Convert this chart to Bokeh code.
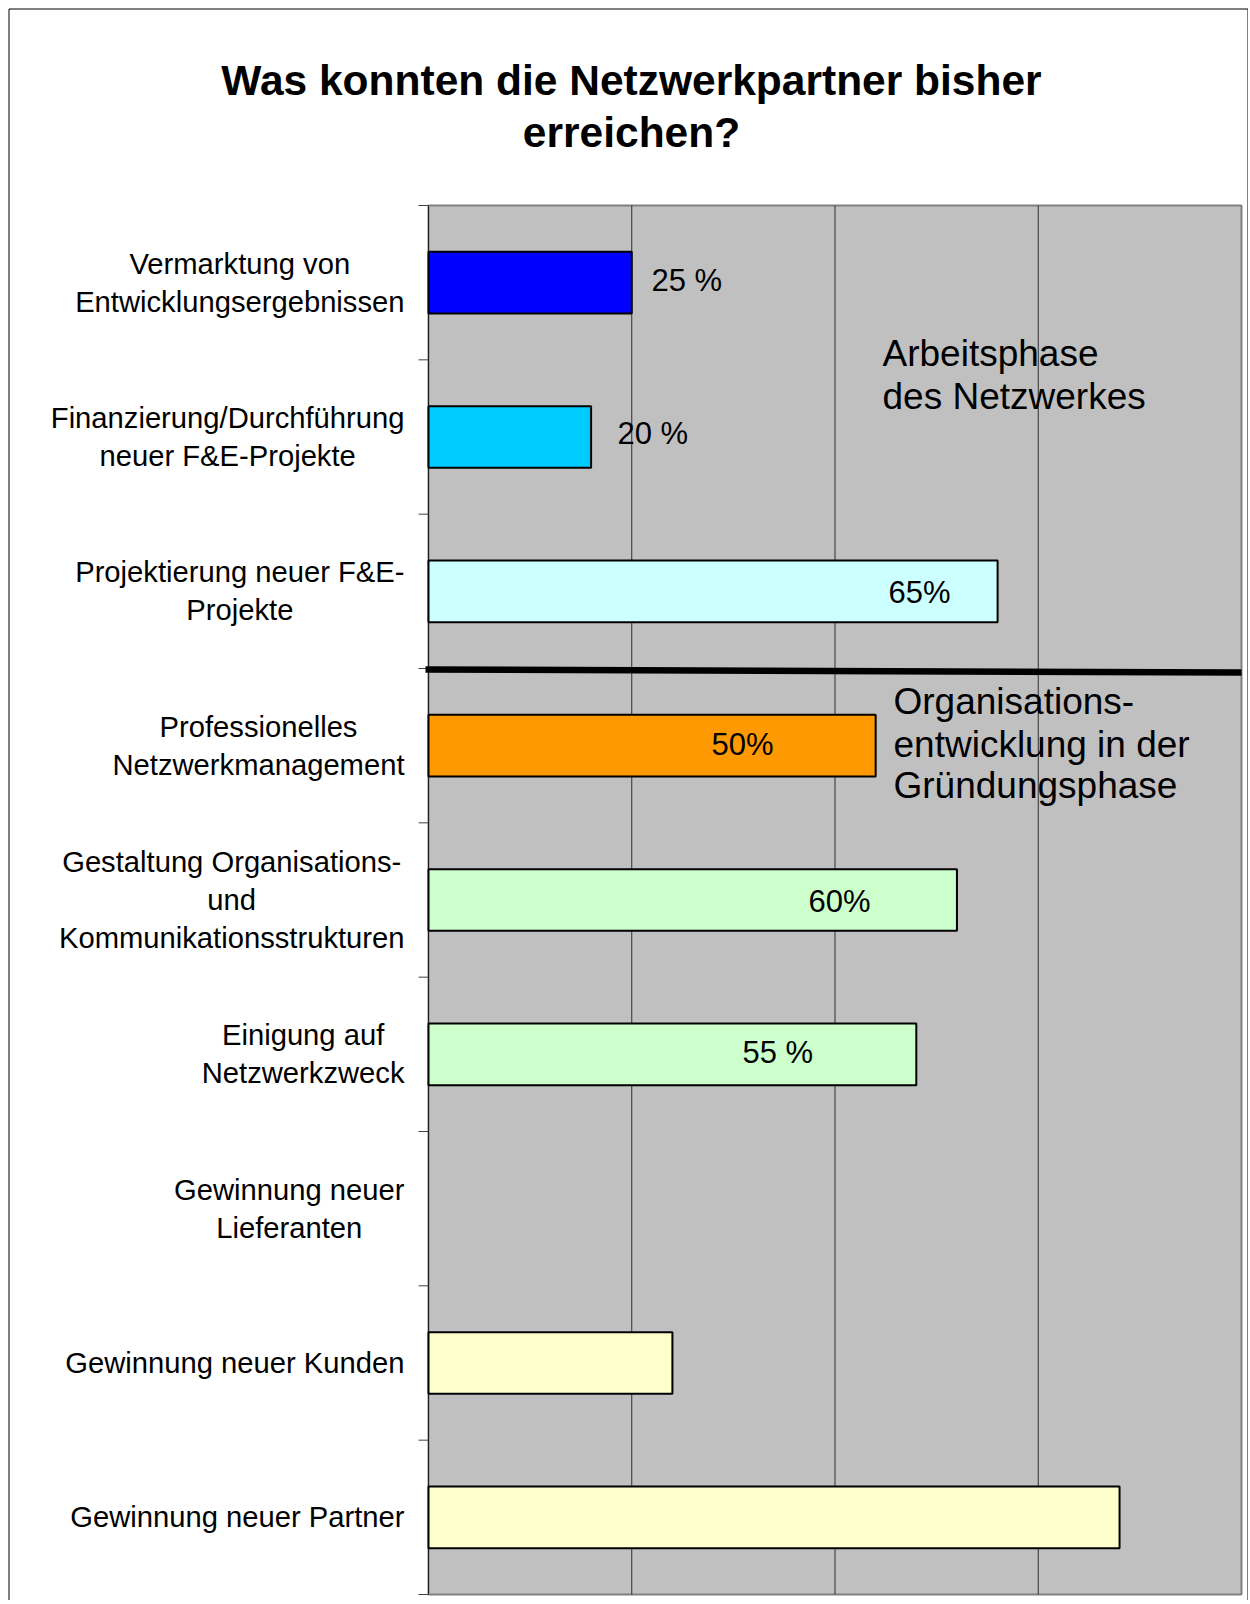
from bokeh.plotting import figure
from bokeh.models import Label, Range1d, ColumnDataSource
from bokeh.embed import file_html
from bokeh.resources import INLINE

# ---------------- data ----------------
categories = [
    "Vermarktung von\nEntwicklungsergebnissen",
    "Finanzierung/Durchführung\nneuer F&E-Projekte",
    "Projektierung neuer F&E-\nProjekte",
    "Professionelles\nNetzwerkmanagement",
    "Gestaltung Organisations-\nund\nKommunikationsstrukturen",
    "Einigung auf\nNetzwerkzweck",
    "Gewinnung neuer\nLieferanten",
    "Gewinnung neuer Kunden",
    "Gewinnung neuer Partner",
]
values = [25, 20, 70, 55, 65, 60, 0, 30, 85]
bar_colors = ["#0000FF", "#00CCFF", "#CCFFFF", "#FF9900", "#CCFFCC",
              "#CCFFCC", "#FFFFCC", "#FFFFCC", "#FFFFCC"]
value_labels = ["25 %", "20 %", "65%", "50%", "60%", "55 %"]
title_lines = ["Was konnten die Netzwerkpartner bisher", "erreichen?"]
phase_top = ["Arbeitsphase", "des Netzwerkes"]
phase_bottom = ["Organisations-", "entwicklung in der", "Gründungsphase"]
grid_ticks = [25, 50, 75]
x_max = 100

# ---------------- layout (pixels of the page) ----------------
FONT = "Liberation Sans"
n = len(categories)
W, H = 1248, 1600
PL, PR, PT, PB = 428, 1241, 205, 1594      # plot area in page pixels
sx = (PR - PL) / x_max                      # px per x unit
sy = (PB - PT) / n                          # px per category slot


def X(px):
    return (px - PL) / sx


def Y(py):
    return n - (py - PT) / sy


p = figure(width=W, height=H,
           x_range=Range1d(X(0), X(W)), y_range=Range1d(Y(H), Y(0)),
           output_backend="svg", toolbar_location=None,
           min_border=0)
p.axis.visible = False
p.grid.visible = False
p.outline_line_color = None
p.background_fill_color = "white"
p.border_fill_color = "white"

# outer frame of the chart
p.quad(left=X(8.5), right=X(1247.5), top=Y(8.5), bottom=Y(H + 20),
       fill_color=None, line_color="black", line_width=1)

# plot area
p.quad(left=0, right=x_max, bottom=0, top=n,
       fill_color="#C0C0C0", line_color="#808080", line_width=2)

# vertical grid lines
p.segment(x0=grid_ticks, x1=grid_ticks, y0=[0] * len(grid_ticks), y1=[n] * len(grid_ticks),
          line_color="#303030", line_width=1)

# category axis: line and tick marks at slot boundaries
p.segment(x0=[0], x1=[0], y0=[0], y1=[n], line_color="#202020", line_width=1)
tick_y = list(range(n + 1))
p.segment(x0=[X(PL - 10)] * len(tick_y), x1=[0] * len(tick_y), y0=tick_y, y1=tick_y,
          line_color="#404040", line_width=1)

# bars
ys = [n - i - 0.5 for i in range(n)]
src = ColumnDataSource(dict(
    y=[y for y, v in zip(ys, values) if v > 0],
    right=[v for v in values if v > 0],
    color=[c for c, v in zip(bar_colors, values) if v > 0],
))
p.hbar(y="y", left=0, right="right", height=0.4, source=src,
       fill_color="color", line_color="black", line_width=2)

# phase separator line
p.line(x=[X(PL - 3), x_max], y=[Y(669), Y(672)], line_width=6.5, line_color="black")

# category labels
for i, cat in enumerate(categories):
    p.add_layout(Label(x=X(404), y=ys[i], text=cat,
                       anchor="center_right", text_align="center",
                       text_baseline="middle", text_line_height=1.19,
                       text_font=FONT, text_font_size="29.2px", text_color="black"))

# value labels
value_label_px = [651, 617, 888, 711, 808, 742]
value_label_py = [280, 433, 592, 744, 901, 1052]
for t, lx, ly in zip(value_labels, value_label_px, value_label_py):
    p.add_layout(Label(x=X(lx), y=Y(ly), text=t,
                       text_align="left", text_baseline="middle",
                       text_font=FONT, text_font_size="31px", text_color="black"))

# phase annotations
for t, ly in zip(phase_top, [353, 396]):
    p.add_layout(Label(x=X(882), y=Y(ly), text=t, text_align="left", text_baseline="middle",
                       text_font=FONT, text_font_size="37px", text_color="black"))
for t, ly in zip(phase_bottom, [701, 744, 785]):
    p.add_layout(Label(x=X(893), y=Y(ly), text=t, text_align="left", text_baseline="middle",
                       text_font=FONT, text_font_size="37px", text_color="black"))

# title
for t, ly in zip(title_lines, [80, 132]):
    p.add_layout(Label(x=X(631), y=Y(ly), text=t, text_align="center",
                       text_baseline="alphabetic",
                       text_font=FONT, text_font_size="42.5px", text_font_style="bold",
                       text_color="black"))

open("out.html", "w").write(file_html(p, INLINE))
